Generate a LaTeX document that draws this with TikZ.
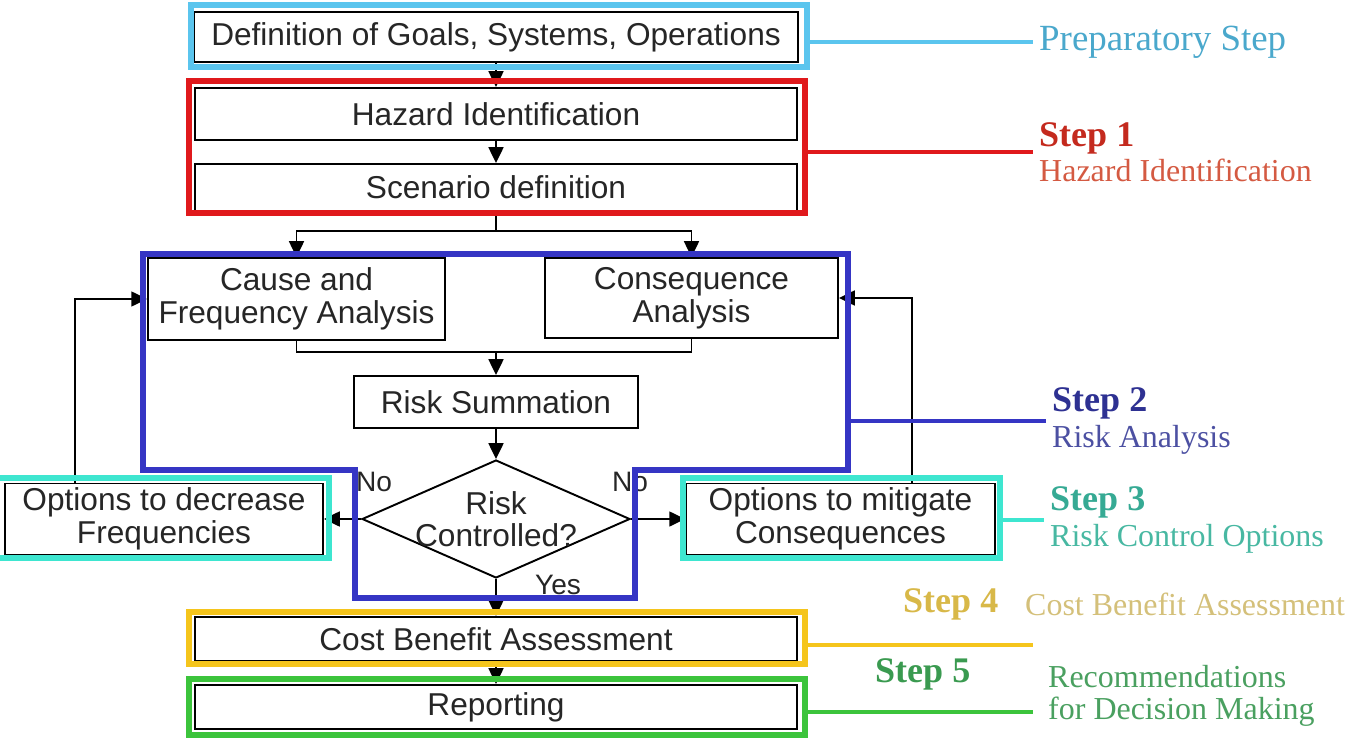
\documentclass[tikz,border=0pt]{standalone}
\usepackage{fontspec}
\newfontfamily\boxfam{Liberation Sans}
\newfontfamily\labfam{Liberation Serif}
\usetikzlibrary{arrows.meta,shapes.geometric}
\definecolor{prepblue}{HTML}{5BC5EE}
\definecolor{preptext}{HTML}{4AA8CC}
\definecolor{redframe}{HTML}{E0191C}
\definecolor{redstep}{HTML}{C42A1E}
\definecolor{redtext}{HTML}{D45A42}
\definecolor{blueframe}{HTML}{3535C4}
\definecolor{bluestep}{HTML}{2E3192}
\definecolor{bluetext}{HTML}{4C50A2}
\definecolor{cyanframe}{HTML}{3EE6D0}
\definecolor{cyanstep}{HTML}{36AA94}
\definecolor{cyantext}{HTML}{48B8A2}
\definecolor{yellowframe}{HTML}{F5C51C}
\definecolor{yellowstep}{HTML}{D8B848}
\definecolor{yellowtext}{HTML}{D4C07A}
\definecolor{greenframe}{HTML}{3CC43C}
\definecolor{greenstep}{HTML}{3A9A50}
\definecolor{greentext}{HTML}{4AA060}
\newcommand\boxfont{\boxfam\fontsize{18}{18.5}\selectfont}
\newcommand\labfont{\labfam\fontsize{18.2}{20}\selectfont}
\newcommand\stepfont{\bfseries\fontsize{20.5}{20}\selectfont}

\begin{document}
\begin{tikzpicture}[x=0.02cm, y=-0.02cm, >={Triangle[length=9pt,width=8.5pt]},
  blk/.style={draw, line width=1.1pt, fill=white, inner sep=0pt, align=center,
    font=\boxfont, text=black!85},
  txt/.style={align=center, font=\boxfont, text=black!85, inner sep=0pt},
  small/.style={font=\boxfam\fontsize{16}{16}\selectfont},
  arr/.style={->, line width=1.1pt},
  con/.style={line width=1.1pt},
  frm/.style={line width=3.3pt},
  lnk/.style={line width=2.3pt},
  lab/.style={anchor=west, align=left, font=\labfont}]
  \useasboundingbox (0,0) rectangle (1352,743);

  % Kaesten
  \node[blk, minimum width=12.08cm, minimum height=1.0cm] (goals) at (496,37) {Definition of Goals, Systems, Operations};
  \node[blk, minimum width=12.06cm, minimum height=1.04cm] (hazid) at (496,114) {Hazard Identification};
  \node[blk, minimum width=12.06cm, minimum height=0.94cm] (scen) at (496,187.5) {Scenario definition};
  \node[blk, minimum width=5.94cm, minimum height=1.64cm] (cause) at (296.5,299) {Cause and\\Frequency Analysis};
  \node[blk, minimum width=5.86cm, minimum height=1.6cm] (cons) at (691.5,298) {Consequence\\Analysis};
  \node[blk, minimum width=5.68cm, minimum height=1.04cm] (summ) at (496,402) {Risk Summation};
  \node[draw, diamond, line width=1.1pt, fill=white, inner sep=0pt,
    minimum width=5.36cm, minimum height=2.36cm] (ctrl) at (496,519) {};
  \node[txt] (ctrltxt) at (ctrl.center) {Risk\\Controlled?};
  \node[blk, minimum width=6.36cm, minimum height=1.42cm] (decr) at (164,519) {Options to decrease\\Frequencies};
  \node[blk, minimum width=6.18cm, minimum height=1.42cm] (mitig) at (840.5,519) {Options to mitigate\\Consequences};
  \node[blk, minimum width=12.04cm, minimum height=0.88cm] (cba) at (496,639) {Cost Benefit Assessment};
  \node[blk, minimum width=12.04cm, minimum height=0.88cm] (rep) at (496,707) {Reporting};

  % Verbindungen
  \draw[arr] (goals) -- (hazid);
  \draw[arr] (hazid) -- (scen);
  \coordinate (split) at (496,231);
  \draw[con] (scen) -- (split);
  \draw[arr] (split) -| (cause.north);
  \draw[arr] (split) -| (cons.north);
  \coordinate (merge) at (496,352);
  \draw[con] (cause.south) |- (merge) -| (cons.south);
  \draw[arr] (merge) -- (summ);
  \draw[arr] (summ) -- (ctrl);
  \draw[arr] (ctrl.west) -- (decr.east);
  \draw[arr] (ctrl.east) -- (mitig.west);
  \draw[arr] (ctrl.south) -- (cba.north);
  \draw[arr] (cba) -- (rep);
  \draw[arr] ([xshift=-1.78cm]decr.north) |- (cause.west);
  \draw[arr] ([xshift=1.43cm]mitig.north) |- (cons.east);
  \node[txt, small] (nol) at (374,482) {No};
  \node[txt, small] (nor) at (630,482) {No};
  \node[txt, small] (yes) at (558,585) {Yes};

  % Rahmen der Schritte
  \draw[frm, prepblue] (191,5) rectangle (807,67);
  \draw[frm, redframe] (189,81) rectangle (805,213);
  \draw[frm, blueframe] (143,254) -- (848,254) -- (848,470) -- (635,470)
    -- (635,598) -- (355,598) -- (355,470) -- (143,470) -- cycle;
  \draw[frm, cyanframe] (-10,478) rectangle (329,558);
  \draw[frm, cyanframe] (683,478) rectangle (1000,558);
  \draw[frm, yellowframe] (189,612) rectangle (805,664);
  \draw[frm, greenframe] (189,679) rectangle (805,735);

  % Beschriftung rechts
  \node[lab, text=preptext, font=\labfam\fontsize{21}{21}\selectfont] (lab0) at (1033,42) {Preparatory Step};
  \draw[lnk, prepblue] (807,42) -- (lab0.west);
  \node[lab, text=redtext] (lab1) at (1033,152) {{\color{redstep}\stepfont Step 1}\\Hazard Identification};
  \draw[lnk, redframe] (805,152) -- (lab1.west);
  \node[lab, text=bluetext] (lab2) at (1046,421) {{\color{bluestep}\stepfont Step 2}\\Risk Analysis};
  \draw[lnk, blueframe] (848,421) -- (lab2.west);
  \node[lab, text=cyantext] (lab3) at (1044,520) {{\color{cyanstep}\stepfont Step 3}\\Risk Control Options};
  \draw[lnk, cyanframe] (1000,520) -- (lab3.west);
  \node[lab, text=yellowstep, font=\labfam\stepfont] (st4) at (897,604) {Step 4};
  \node[lab, text=yellowtext] (lab4) at (1019,604) {Cost Benefit Assessment};
  \coordinate (end4) at (1033,645);
  \draw[lnk, yellowframe] (805,645) -- (end4);
  \node[lab, text=greenstep, font=\labfam\stepfont] (st5) at (869,674) {Step 5};
  \node[lab, text=greentext, font=\labfam\fontsize{18.2}{18.5}\selectfont] (lab5) at (1042,696) {Recommendations\\for Decision Making};
  \coordinate (end5) at (1033,712);
  \draw[lnk, greenframe] (805,712) -- (end5);
\end{tikzpicture}
\end{document}
